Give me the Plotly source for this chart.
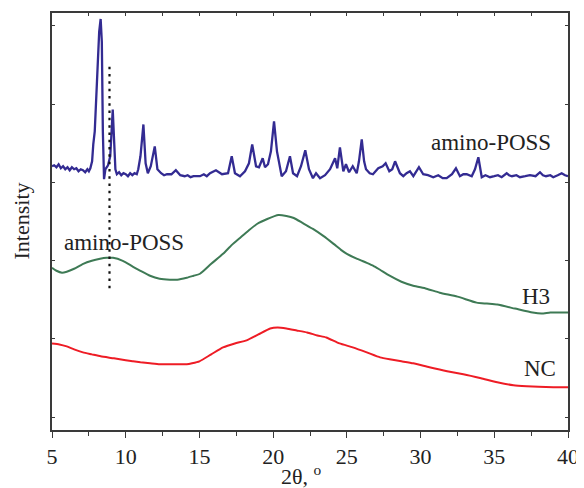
import plotly.graph_objects as go

# amino-POSS (blue) : 2theta, intensity (arbitrary units)
poss_x = [5.0, 5.15, 5.3, 5.45, 5.6, 5.75, 5.9, 6.05, 6.2, 6.35, 6.5, 6.65, 6.8, 6.95, 7.1, 7.25, 7.4, 7.5,
          7.6, 7.72, 7.80, 7.90, 8.05, 8.20, 8.30, 8.38, 8.45, 8.53, 8.62, 8.80, 8.95, 9.05, 9.12, 9.20, 9.30,
          9.40, 9.55, 9.7, 9.85, 10.0, 10.15, 10.3, 10.45, 10.6, 10.75, 10.85, 11.0, 11.2, 11.35, 11.5, 11.7,
          11.97, 12.15, 12.4, 12.6, 12.8, 13.1, 13.4, 13.7, 14.0, 14.2, 14.4, 14.6, 14.8, 15.04, 15.3, 15.5,
          15.72, 16.12, 16.53, 16.94, 17.19, 17.41, 17.75, 18.09, 18.36, 18.58, 18.84, 19.04, 19.29, 19.45,
          19.65, 19.85, 20.06, 20.26, 20.58, 20.87, 21.14, 21.35, 21.62, 21.89, 22.18, 22.43, 22.70, 22.91,
          23.18, 23.52, 23.86, 24.20, 24.35, 24.53, 24.76, 24.94, 25.15, 25.40, 25.67, 25.82, 26.01, 26.17,
          26.30, 26.55, 26.77, 27.13, 27.43, 27.63, 27.88, 28.08, 28.27, 28.60, 28.83, 29.05, 29.28, 29.51,
          29.89, 30.18, 30.5, 30.86, 31.2, 31.5, 31.77, 32.13, 32.40, 32.67, 32.9, 33.13, 33.47, 33.69, 33.92,
          34.15, 34.4, 34.71, 35.0, 35.25, 35.5, 35.84, 36.0, 36.20, 36.5, 36.74, 37.1, 37.42, 37.8, 38.10,
          38.3, 38.51, 38.8, 39.00, 39.3, 39.57, 39.8, 40.0]
poss_y = [265, 266, 264, 267, 263, 265, 262, 264, 261, 264, 262, 263, 260, 262, 261, 259, 262, 260,
          263, 270, 287, 300, 350, 400, 413, 390, 300, 252, 262, 266, 275, 310, 322, 295, 262,
          257, 259, 256, 258, 257, 255, 258, 256, 258, 257, 262, 275, 307, 268, 258, 265,
          285, 262, 258, 256, 257, 257, 261, 256, 255, 256, 254, 255, 255, 255, 257, 255,
          258, 261, 257, 258, 275, 258, 255, 260, 268, 287, 265, 264, 273, 264,
          267, 280, 310, 280, 255, 260, 275, 258, 255, 265, 281, 262, 253, 258,
          253, 256, 262, 273, 263, 284, 260, 267, 259, 265, 258, 270, 292, 270,
          262, 258, 257, 263, 265, 268, 260, 262, 270, 258, 255, 258, 260, 255,
          264, 257, 256, 254, 256, 253, 253, 257, 263, 255, 257, 257, 255, 262, 274,
          254, 256, 254, 255, 256, 254, 258, 256, 255, 256, 254, 255, 256, 255, 259,
          256, 255, 256, 254, 256, 258, 256, 255]

# H3 (green)
h3_x = [5.0, 5.3, 5.68, 6.0, 6.5, 7.12, 7.7, 8.26, 8.7, 9.14, 9.8, 10.5, 11.0, 11.65, 12.3, 13.0, 13.5,
        14.14, 14.6, 15.04, 15.8, 16.6, 17.2, 17.75, 18.3, 18.9, 19.6, 20.36, 20.9, 21.4, 22.0, 22.7, 23.4,
        24.1, 24.6, 25.0, 25.7, 26.35, 26.8, 27.25, 27.9, 28.7, 29.5, 30.4, 31.3, 32.5, 33.8, 34.5, 35.2,
        36.4, 37.6, 38.2, 38.8, 39.4, 40.0]
h3_y = [163, 160, 158, 159, 162, 167, 170, 172, 173, 173, 170, 164, 160, 155, 152, 151, 151,
        153, 155, 157, 167, 177, 186, 193, 200, 207, 212, 216, 215, 213, 208, 202, 195,
        187, 181, 177, 172, 168, 165, 161, 155, 149, 145, 142, 138, 134, 128, 127, 126,
        122, 118, 117, 118, 118, 118]

# NC (red)
nc_x = [5.0, 5.5, 6.0, 6.5, 7.1, 7.7, 8.3, 9.2, 10.0, 10.5, 11.0, 11.65, 12.3, 13.0, 13.6, 14.14, 14.5,
        15.0, 15.8, 16.6, 17.4, 18.2, 19.0, 19.8, 20.3, 20.9, 21.6, 22.3, 23.0, 23.6, 24.5, 25.4, 26.35,
        27.25, 27.9, 28.7, 29.5, 30.6, 31.8, 32.9, 34.1, 35.2, 36.3, 37.2, 38.0, 39.0, 40.0]
nc_y = [87, 86, 84, 81, 78, 76, 74, 72, 70, 69, 68, 67, 66, 66, 66, 66, 67,
        69, 76, 83, 87, 90, 96, 102, 103, 102, 100, 98, 95, 93, 87, 83, 78,
        73, 71, 69, 67, 63, 59, 56, 52, 48, 45, 44, 43.5, 43, 43]

# dotted marker line position
dot_x = [8.9, 8.9]
dot_y = [365, 142]

FONT = "Liberation Serif"
AX = "#3a3a3a"
TXT = "#222222"

fig = go.Figure()
fig.add_trace(go.Scatter(x=nc_x, y=nc_y, mode="lines",
                         line=dict(color="#ee1c25", width=2, shape="spline", smoothing=0.5), showlegend=False))
fig.add_trace(go.Scatter(x=h3_x, y=h3_y, mode="lines",
                         line=dict(color="#3e7a55", width=2, shape="spline", smoothing=0.6), showlegend=False))
fig.add_trace(go.Scatter(x=poss_x, y=poss_y, mode="lines", line=dict(color="#332b92", width=2.3),
                         showlegend=False))
fig.add_trace(go.Scatter(x=dot_x, y=dot_y, mode="lines",
                         line=dict(color="#111111", width=2.2, dash="2.5px,4.8px"), showlegend=False))
fig.add_trace(go.Scatter(x=[5, 40], y=[-10, -10], xaxis="x2", mode="lines", line=dict(width=0),
                         hoverinfo="skip", showlegend=False))

fig.update_layout(
    width=576, height=480,
    margin=dict(l=44, r=16, t=3, b=58),
    paper_bgcolor="white", plot_bgcolor="white",
    font=dict(family=FONT, size=22, color=TXT),
    xaxis=dict(range=[5, 40], tick0=5, dtick=5, ticks="outside", ticklen=6, tickwidth=1.3, tickcolor=AX,
               showline=True, linecolor=AX, linewidth=1.5, mirror=True, showgrid=False, zeroline=False,
               minor=dict(dtick=2.5, tick0=5, ticks="outside", ticklen=4, tickcolor=AX, tickwidth=1.3),
               tickfont=dict(family=FONT, size=22, color=TXT)),
    xaxis2=dict(range=[5, 40], overlaying="x", side="top", tick0=5, dtick=2.5, ticks="inside", ticklen=3,
                tickcolor=AX, tickwidth=1.2, showticklabels=False, showline=False, showgrid=False,
                zeroline=False),
    yaxis=dict(range=[0, 419], tick0=13, dtick=78.6, ticks="inside", ticklen=3, tickwidth=1.3, tickcolor=AX,
               showticklabels=False, showline=True, linecolor=AX, linewidth=1.5, mirror="ticks",
               showgrid=False, zeroline=False),
    annotations=[
        dict(text="amino-POSS", x=38.98, y=289, xref="x", yref="y", xanchor="right", yanchor="middle",
             showarrow=False, font=dict(family=FONT, size=23, color=TXT)),
        dict(text="amino-POSS", x=5.68, y=188, xref="x", yref="y", xanchor="left", yanchor="middle",
             showarrow=False, font=dict(family=FONT, size=23, color=TXT)),
        dict(text="H3", x=38.9, y=134, xref="x", yref="y", xanchor="right", yanchor="middle",
             showarrow=False, font=dict(family=FONT, size=23, color=TXT)),
        dict(text="NC", x=39.3, y=62, xref="x", yref="y", xanchor="right", yanchor="middle",
             showarrow=False, font=dict(family=FONT, size=23, color=TXT)),
        dict(text="2θ, <sup>o</sup>", x=0.483, y=-0.107, xref="paper", yref="paper", xanchor="center",
             yanchor="middle", showarrow=False, font=dict(family=FONT, size=22, color=TXT)),
        dict(text="Intensity", x=-(52 - 21) / 516, y=0.5, xref="paper", yref="paper", xanchor="center",
             yanchor="middle", textangle=-90, showarrow=False, font=dict(family=FONT, size=22, color=TXT)),
    ],
)

fig.write_html("out.html")
